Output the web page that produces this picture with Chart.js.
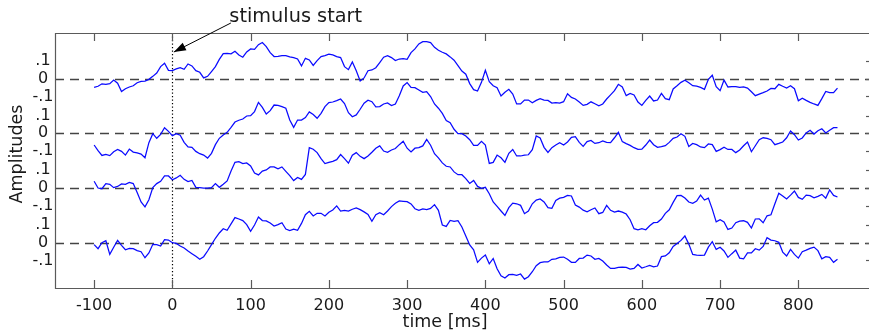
<!DOCTYPE html>
<html>
<head>
<meta charset="utf-8">
<script src="https://cdn.jsdelivr.net/npm/chart.js@4.4.1/dist/chart.umd.min.js"></script>
<style>
  html, body { margin: 0; padding: 0; background: #ffffff; }
  #wrap { width: 869px; height: 333px; position: relative; }
</style>
</head>
<body>
<div id="wrap"><canvas id="c" width="869" height="333"></canvas></div>
<script>
// ---- data ----
const timeStart = -100;   // ms
const timeStep = 5;       // ms
const xTicks = [-100, 0, 100, 200, 300, 400, 500, 600, 700, 800];
const yTickSteps = [0.1, 0, -0.1];
const yTickLabels = ['.1', '0', '-.1'];
const traceOffsets = [0.927, 0.618, 0.309, 0];
const xLabel = 'time [ms]';
const yLabel = 'Amplitudes';
const markerLabel = 'stimulus start';
const markerTime = 0;

const trace1 = [
-0.049,-0.043,-0.029,-0.032,-0.028,-0.008,-0.026,-0.073,-0.057,-0.047,
-0.040,-0.023,-0.015,-0.014,-0.004,0.013,0.032,0.068,0.087,0.047,
0.045,0.055,0.062,0.053,0.083,0.072,0.045,0.036,0.004,0.013,
0.040,0.068,0.109,0.142,0.143,0.140,0.155,0.134,0.121,0.151,
0.168,0.166,0.192,0.204,0.181,0.147,0.125,0.126,0.130,0.130,
0.123,0.119,0.111,0.072,0.115,0.106,0.075,0.102,0.125,0.130,
0.138,0.134,0.125,
0.119,0.068,0.051,0.094,0.045,-0.013,0.004,0.045,0.049,0.062,
0.091,0.121,0.130,0.119,0.102,0.111,0.113,0.109,0.147,0.168,
0.196,0.209,0.209,0.204,0.177,0.160,0.149,0.140,0.123,0.104,
0.074,0.043,0.025,-0.028,-0.062,-0.070,-0.021,0.047,-0.017,-0.040,
-0.051,-0.098,-0.077,-0.060,-0.087,-0.143,-0.143,-0.121,-0.121,-0.136,
-0.123,-0.113,-0.121,-0.123,-0.138,-0.136,-0.138,-0.130,-0.085,-0.106,
-0.115,-0.132,-0.151,-0.145,
-0.131,-0.142,-0.153,-0.143,-0.115,-0.092,-0.068,-0.032,-0.047,-0.096,
-0.083,-0.092,-0.132,-0.151,-0.123,-0.098,-0.126,-0.121,-0.083,-0.113,
-0.119,-0.058,-0.040,-0.021,-0.009,-0.023,-0.040,-0.042,-0.049,-0.060,
-0.004,0.019,-0.045,-0.068,-0.008,-0.047,-0.045,-0.045,-0.049,-0.047,
-0.053,-0.074,-0.096,-0.087,-0.079,-0.070,-0.055,-0.057,-0.032,-0.043,
-0.053,-0.040,-0.057,-0.125,-0.111,-0.123,-0.134,-0.143,-0.151,-0.113,
-0.072,-0.079,-0.079,-0.053
];
const trace2 = [
-0.066,-0.098,-0.125,-0.119,-0.126,-0.104,-0.091,-0.102,-0.123,-0.089,
-0.106,-0.111,-0.117,-0.138,-0.053,-0.002,-0.028,-0.006,0.032,0.011,
-0.013,-0.002,-0.011,-0.051,-0.077,-0.079,-0.102,-0.115,-0.123,-0.140,
-0.113,-0.064,-0.028,-0.009,0.006,0.034,0.064,0.074,0.081,0.098,
0.100,0.123,0.175,0.147,0.109,0.128,0.160,0.158,0.151,0.142,
0.075,0.034,0.075,0.075,0.089,0.121,0.106,0.085,0.113,0.151,
0.174,0.177,0.185,
0.194,0.168,0.117,0.094,0.104,0.136,0.170,0.187,0.179,0.149,
0.151,0.166,0.172,0.157,0.166,0.213,0.268,0.287,0.260,0.258,
0.245,0.232,0.236,0.208,0.166,0.142,0.113,0.072,0.060,0.023,
-0.002,-0.002,-0.015,-0.036,-0.068,-0.068,-0.045,-0.066,-0.170,-0.164,
-0.123,-0.138,-0.164,-0.113,-0.091,-0.128,-0.128,-0.123,-0.121,-0.092,
-0.015,-0.026,-0.079,-0.108,-0.081,-0.066,-0.053,-0.066,-0.049,-0.023,
-0.019,-0.051,-0.074,-0.047,
-0.040,-0.057,-0.053,-0.043,-0.051,-0.053,-0.025,0.006,-0.047,-0.058,
-0.068,-0.081,-0.091,-0.089,-0.066,-0.038,-0.064,-0.079,-0.075,-0.070,
-0.051,-0.028,-0.021,-0.002,-0.017,-0.074,-0.057,-0.064,-0.077,-0.081,
-0.060,-0.064,-0.102,-0.092,-0.079,-0.091,-0.091,-0.109,-0.094,-0.070,
-0.049,-0.104,-0.070,-0.036,-0.025,-0.028,-0.036,-0.064,-0.057,-0.049,
-0.025,0.013,-0.008,-0.038,-0.026,0.002,0.017,-0.004,0.015,0.026,
0.002,0.017,0.032,0.032
];
const trace3 = [
0.038,0.000,-0.004,0.025,0.021,0.002,0.009,0.023,0.021,0.032,
0.025,-0.025,-0.079,-0.106,-0.066,0.002,0.025,0.038,0.068,0.068,
0.047,0.057,0.072,0.049,0.036,0.043,0.004,0.002,0.000,0.000,
0.002,0.025,0.004,0.021,0.040,0.096,0.145,0.149,0.138,0.142,
0.125,0.085,0.074,0.096,0.102,0.119,0.119,0.108,0.119,0.094,
0.070,0.042,0.060,0.049,0.077,0.228,0.219,0.200,0.166,0.138,
0.145,0.151,0.160,
0.189,0.166,0.140,0.185,0.200,0.179,0.166,0.181,0.202,0.225,
0.238,0.209,0.202,0.215,0.223,0.245,0.264,0.225,0.204,0.225,
0.228,0.238,0.275,0.242,0.194,0.170,0.142,0.123,0.119,0.091,
0.075,0.075,0.053,0.026,0.043,0.009,-0.002,0.004,-0.032,-0.079,
-0.104,-0.130,-0.155,-0.111,-0.085,-0.089,-0.098,-0.145,-0.130,-0.089,
-0.068,-0.062,-0.079,-0.111,-0.115,-0.070,-0.057,-0.053,-0.042,-0.045,
-0.096,-0.108,-0.125,-0.134,
-0.123,-0.113,-0.145,-0.138,-0.098,-0.126,-0.136,-0.130,-0.136,-0.147,
-0.179,-0.230,-0.236,-0.230,-0.236,-0.213,-0.196,-0.194,-0.175,-0.143,
-0.123,-0.081,-0.043,-0.042,-0.057,-0.079,-0.087,-0.074,-0.040,-0.068,
-0.057,-0.119,-0.191,-0.179,-0.192,-0.234,-0.226,-0.196,-0.187,-0.185,
-0.194,-0.226,-0.175,-0.174,-0.196,-0.157,-0.151,-0.089,-0.030,-0.045,
-0.062,-0.040,-0.017,-0.053,-0.064,-0.040,-0.043,-0.055,-0.047,-0.036,
-0.057,-0.011,-0.042,-0.051
];
const trace4 = [
-0.011,-0.034,0.000,0.011,-0.066,-0.026,0.013,-0.015,-0.040,-0.032,
-0.034,-0.045,-0.051,-0.085,-0.058,-0.009,-0.011,-0.019,0.017,0.015,
0.000,-0.004,-0.019,-0.030,-0.047,-0.062,-0.077,-0.094,-0.079,-0.047,
-0.011,0.025,0.055,0.079,0.070,0.106,0.142,0.134,0.125,0.102,
0.064,0.100,0.145,0.125,0.123,0.111,0.094,0.102,0.113,0.077,
0.068,0.077,0.070,0.109,0.158,0.177,0.151,0.166,0.166,0.151,
0.172,0.185,0.208,
0.179,0.183,0.179,0.189,0.196,0.187,0.174,0.160,0.121,0.158,
0.170,0.158,0.179,0.204,0.223,0.236,0.234,0.232,0.219,0.192,
0.183,0.191,0.187,0.194,0.215,0.183,0.100,0.092,0.126,0.121,
0.125,0.089,0.038,-0.013,-0.040,-0.111,-0.087,-0.070,-0.119,-0.089,
-0.147,-0.187,-0.200,-0.181,-0.179,-0.185,-0.177,-0.206,-0.192,-0.164,
-0.130,-0.113,-0.109,-0.109,-0.094,-0.091,-0.083,-0.081,-0.094,-0.111,
-0.111,-0.089,-0.087,-0.070,
-0.075,-0.094,-0.089,-0.104,-0.126,-0.145,-0.145,-0.140,-0.138,-0.140,
-0.149,-0.145,-0.123,-0.143,-0.136,-0.128,-0.136,-0.132,-0.079,-0.075,
-0.057,-0.021,-0.004,0.013,0.038,-0.008,-0.066,-0.070,-0.072,-0.070,
-0.025,0.006,-0.038,-0.026,-0.047,-0.083,-0.062,-0.042,-0.087,-0.091,
-0.057,-0.058,-0.034,-0.042,-0.021,0.028,0.015,0.011,0.002,-0.053,
-0.075,-0.038,-0.066,-0.087,-0.051,-0.042,-0.032,-0.025,-0.045,-0.091,
-0.079,-0.083,-0.111,-0.094
];
const traces = [trace1, trace2, trace3, trace4];

// ---- build chart ----
const FONT = '"DejaVu Sans", "Liberation Sans", sans-serif';
const times = trace1.map((_, i) => timeStart + i * timeStep);

const datasets = traces.map((tr, k) => ({
  label: 'trace ' + (k + 1),
  data: tr.map((v, i) => ({ x: times[i], y: v + traceOffsets[k] })),
  borderColor: '#0a0aff',
  borderWidth: 1.25,
  pointRadius: 0,
  tension: 0,
  fill: false
}));

const yTickValues = [];
const yTickText = {};
traceOffsets.forEach(o => {
  yTickSteps.forEach((s, j) => {
    const v = +(o + s).toFixed(4);
    yTickValues.push(v);
    yTickText[v.toFixed(4)] = yTickLabels[j];
  });
});

const framePlugin = {
  id: 'frame',
  beforeDatasetsDraw(chart) {
    const { ctx, chartArea: a, scales: { x, y } } = chart;
    ctx.save();
    // dashed zero lines
    ctx.strokeStyle = '#444';
    ctx.lineWidth = 1.3;
    ctx.setLineDash([9, 6]);
    traceOffsets.forEach(o => {
      const py = Math.round(y.getPixelForValue(o)) + 0.5;
      ctx.beginPath();
      ctx.moveTo(a.left, py);
      ctx.lineTo(a.right + 1, py);
      ctx.stroke();
    });
    // dotted stimulus line
    ctx.setLineDash([1.3, 2.2]);
    ctx.lineWidth = 1.2;
    ctx.strokeStyle = '#000';
    const px0 = Math.round(x.getPixelForValue(markerTime)) + 0.5;
    ctx.beginPath();
    ctx.moveTo(px0, a.top);
    ctx.lineTo(px0, a.bottom);
    ctx.stroke();
    ctx.restore();
  },
  afterDraw(chart) {
    const { ctx, chartArea: a, scales: { x, y } } = chart;
    ctx.save();
    ctx.strokeStyle = '#5a5a5a';
    ctx.lineWidth = 1.2;
    ctx.setLineDash([]);
    // frame: top, left, bottom
    ctx.beginPath();
    ctx.moveTo(a.right + 2, a.top + 0.5);
    ctx.lineTo(a.left + 0.5, a.top + 0.5);
    ctx.lineTo(a.left + 0.5, a.bottom + 0.5);
    ctx.lineTo(a.right + 2, a.bottom + 0.5);
    ctx.stroke();
    // x ticks (inside, top and bottom)
    xTicks.forEach(t => {
      const px = Math.round(x.getPixelForValue(t)) + 0.5;
      ctx.beginPath();
      ctx.moveTo(px, a.top);
      ctx.lineTo(px, a.top + 8);
      ctx.moveTo(px, a.bottom);
      ctx.lineTo(px, a.bottom - 8);
      ctx.stroke();
    });
    // y ticks on right border (mostly outside the window)
    yTickValues.forEach(v => {
      const py = Math.round(y.getPixelForValue(v)) + 0.5;
      ctx.beginPath();
      ctx.moveTo(a.right - 2, py);
      ctx.lineTo(a.right + 2, py);
      ctx.stroke();
    });
    // axis titles
    ctx.fillStyle = '#1a1a1a';
    ctx.font = '17.5px ' + FONT;
    ctx.textAlign = 'center';
    ctx.textBaseline = 'alphabetic';
    ctx.fillText(xLabel, 445, 327);
    ctx.save();
    ctx.translate(21.5, 154);
    ctx.rotate(-Math.PI / 2);
    ctx.fillText(yLabel, 0, 0);
    ctx.restore();
    // annotation arrow
    const tipX = x.getPixelForValue(markerTime) + 1.5;
    const tipY = a.top + 19;
    const tailX = tipX + 57;
    const tailY = tipY - 29;
    ctx.strokeStyle = '#000';
    ctx.fillStyle = '#000';
    ctx.lineWidth = 1;
    ctx.beginPath();
    ctx.moveTo(tailX, tailY);
    ctx.lineTo(tipX, tipY);
    ctx.stroke();
    const ang = Math.atan2(tipY - tailY, tipX - tailX);
    const L = 12, W = 4.2;
    const bx = tipX - L * Math.cos(ang), by = tipY - L * Math.sin(ang);
    ctx.beginPath();
    ctx.moveTo(tipX, tipY);
    ctx.lineTo(bx + W * Math.sin(ang), by - W * Math.cos(ang));
    ctx.lineTo(bx - W * Math.sin(ang), by + W * Math.cos(ang));
    ctx.closePath();
    ctx.fill();
    ctx.font = '19.3px ' + FONT;
    ctx.textAlign = 'left';
    ctx.fillStyle = '#1a1a1a';
    ctx.fillText(markerLabel, tailX - 1.5, tailY - 1);
    ctx.restore();
  }
};

new Chart(document.getElementById('c'), {
  type: 'line',
  data: { datasets },
  options: {
    responsive: false,
    animation: false,
    devicePixelRatio: 1,
    layout: { padding: { top: 33, right: 1, left: 0, bottom: 0 } },
    plugins: { legend: { display: false }, tooltip: { enabled: false }, title: { display: false } },
    scales: {
      x: {
        type: 'linear',
        min: -150,
        max: 889,
        afterBuildTicks: s => { s.ticks = xTicks.map(v => ({ value: v })); },
        afterFit: s => { s.height = 45; },
        grid: { display: false, drawTicks: false },
        border: { display: false },
        ticks: {
          autoSkip: false, maxRotation: 0, padding: 8,
          color: '#1a1a1a',
          font: { family: FONT, size: 16 },
          callback: v => String(v)
        }
      },
      y: {
        type: 'linear',
        min: -0.256,
        max: 1.185,
        afterBuildTicks: s => { s.ticks = yTickValues.map(v => ({ value: v })); },
        afterFit: s => { s.width = 55; },
        grid: { display: false, drawTicks: false },
        border: { display: false },
        ticks: {
          autoSkip: false, padding: 1.5, crossAlign: 'center',
          color: '#1a1a1a',
          font: { family: FONT, size: 16 },
          callback: v => yTickText[(+v).toFixed(4)] || ''
        }
      }
    }
  },
  plugins: [framePlugin]
});
</script>
</body>
</html>
